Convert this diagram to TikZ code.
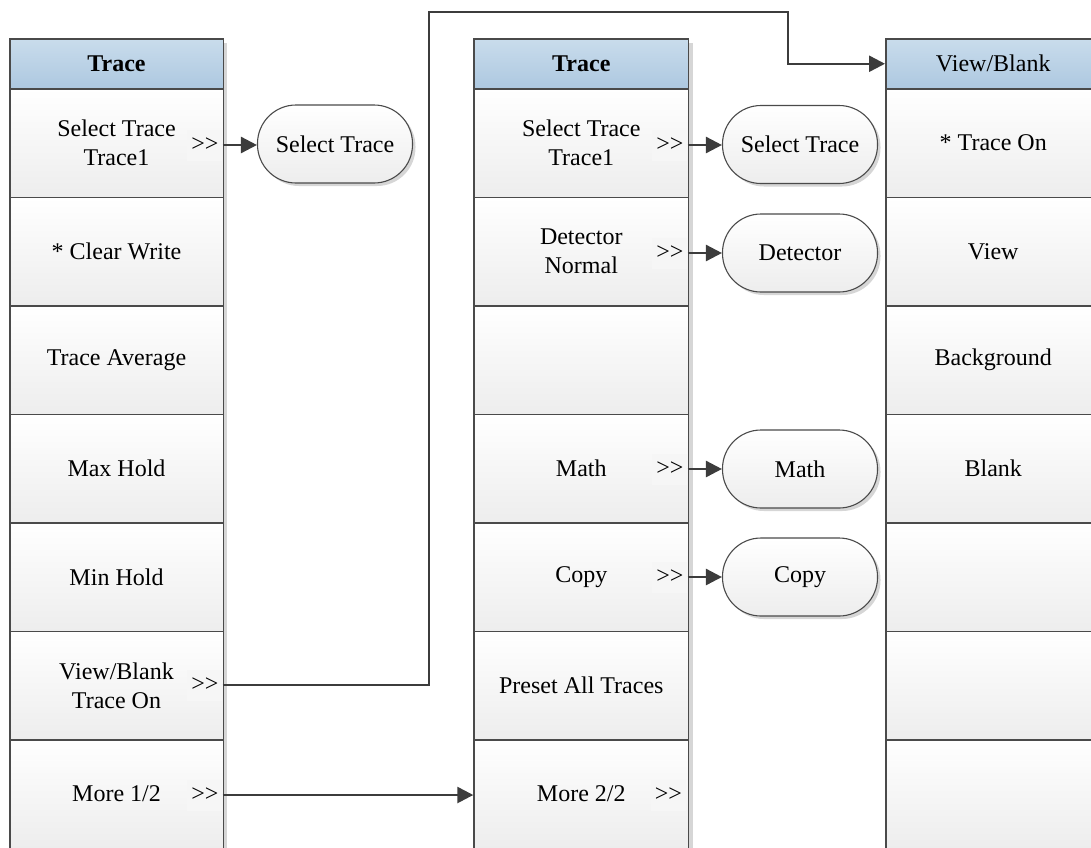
\documentclass[tikz,border=0pt]{standalone}
\usepackage{fontspec}
\setmainfont{Liberation Serif}
\usetikzlibrary{shadows,arrows.meta}
\definecolor{bord}{HTML}{4A4A4A}
\definecolor{lnk}{HTML}{3C3C3C}
\definecolor{hdtop}{HTML}{C9DCEC}
\definecolor{hdbot}{HTML}{ADC8E0}
\definecolor{celbot}{HTML}{EDEDED}
\definecolor{shd}{HTML}{D6D6D6}
\definecolor{gtfill}{HTML}{F6F6F6}
\begin{document}
\begin{tikzpicture}[x=1pt,y=-1pt,font=\fontsize{24}{29}\selectfont,
  cellbox/.style={draw=bord,line width=1.5pt,top color=white,bottom color=celbot,
    minimum width=#1,minimum height=108.5pt,inner sep=0pt,align=center,anchor=north west,
    drop shadow={shadow xshift=4pt,shadow yshift=-4pt,fill=shd,opacity=1}},
  headbox/.style={draw=bord,line width=1.5pt,top color=hdtop,bottom color=hdbot,
    minimum width=#1,minimum height=50pt,inner sep=0pt,anchor=north west,
    drop shadow={shadow xshift=4pt,shadow yshift=-4pt,fill=shd,opacity=1}},
  pill/.style={draw=bord,line width=1.1pt,rounded corners=38.5pt,top color=white,bottom color=celbot,
    minimum width=155pt,minimum height=78pt,inner sep=0pt,
    drop shadow={shadow xshift=3pt,shadow yshift=-3pt,fill=shd,opacity=1}},
  gt/.style={fill=gtfill,minimum width=35pt,minimum height=31pt,inner sep=0pt,anchor=east},
  link/.style={draw=lnk,line width=2.5pt,-{Triangle[length=16pt,width=16pt]}}]
\clip (0,0) rectangle (1091,847);
% left column
\node[headbox=213.5pt] (L0) at (9,38) {\textbf{Trace}};
\node[cellbox=213.5pt] (L1) at (9,88) {Select Trace\\Trace1};
\node[cellbox=213.5pt] (L2) at (9,196.5) {* Clear Write};
\node[cellbox=213.5pt] (L3) at (9,305) {Trace Average};
\node[cellbox=213.5pt] (L4) at (9,413.5) {Max Hold};
\node[cellbox=213.5pt] (L5) at (9,522) {Min Hold};
\node[cellbox=213.5pt] (L6) at (9,630.5) {View/Blank\\Trace On};
\node[cellbox=213.5pt] (L7) at (9,739) {More 1/2};
% middle column
\node[headbox=214.5pt] (M0) at (473.3,38) {\textbf{Trace}};
\node[cellbox=214.5pt] (M1) at (473.3,88) {Select Trace\\Trace1};
\node[cellbox=214.5pt] (M2) at (473.3,196.5) {Detector\\Normal};
\node[cellbox=214.5pt] (M3) at (473.3,305) {};
\node[cellbox=214.5pt] (M4) at (473.3,413.5) {Math};
\node[cellbox=214.5pt] (M5) at (473.3,522) {Copy};
\node[cellbox=214.5pt] (M6) at (473.3,630.5) {Preset All Traces};
\node[cellbox=214.5pt] (M7) at (473.3,739) {More 2/2};
% right column
\node[headbox=215pt] (R0) at (885,38) {View/Blank};
\node[cellbox=215pt] (R1) at (885,88) {* Trace On};
\node[cellbox=215pt] (R2) at (885,196.5) {View};
\node[cellbox=215pt] (R3) at (885,305) {Background};
\node[cellbox=215pt] (R4) at (885,413.5) {Blank};
\node[cellbox=215pt] (R5) at (885,522) {};
\node[cellbox=215pt] (R6) at (885,630.5) {};
\node[cellbox=215pt] (R7) at (885,739) {};
% >> markers
\node[gt] (Lg1) at (222.5,145) {>\kern0pt>};
\node[gt] (Lg6) at (222.5,685) {>\kern0pt>};
\node[gt] (Lg7) at (222.5,795) {>\kern0pt>};
\node[gt] (Mg1) at (687.5,145) {>\kern0pt>};
\node[gt] (Mg2) at (687.5,253) {>\kern0pt>};
\node[gt] (Mg4) at (687.5,469) {>\kern0pt>};
\node[gt] (Mg5) at (687.5,577) {>\kern0pt>};
\node[gt] (Mg7) at (686,795) {>\kern0pt>};
% pills
\node[pill] (Ls) at (335,144) {Select Trace};
\node[pill] (Ms) at (800,144.5) {Select Trace};
\node[pill] (Md) at (800,253) {Detector};
\node[pill] (Mm) at (800,469) {Math};
\node[pill] (Mc) at (800,577) {Copy};
% connectors
\draw[link] (Lg1.east) -- (Lg1.east -| Ls.west);
\draw[link] (Mg1.east) -- (Mg1.east -| Ms.west);
\draw[link] (Mg2.east) -- (Mg2.east -| Md.west);
\draw[link] (Mg4.east) -- (Mg4.east -| Mm.west);
\draw[link] (Mg5.east) -- (Mg5.east -| Mc.west);
\draw[link] (Lg7.east) -- (Lg7.east -| M7.west);
\coordinate (b1) at (429,12);
\coordinate (b2) at (788,12);
\draw[link] (Lg6.east) -| (b1) -- (b2) |- (R0.west);
\end{tikzpicture}
\end{document}
